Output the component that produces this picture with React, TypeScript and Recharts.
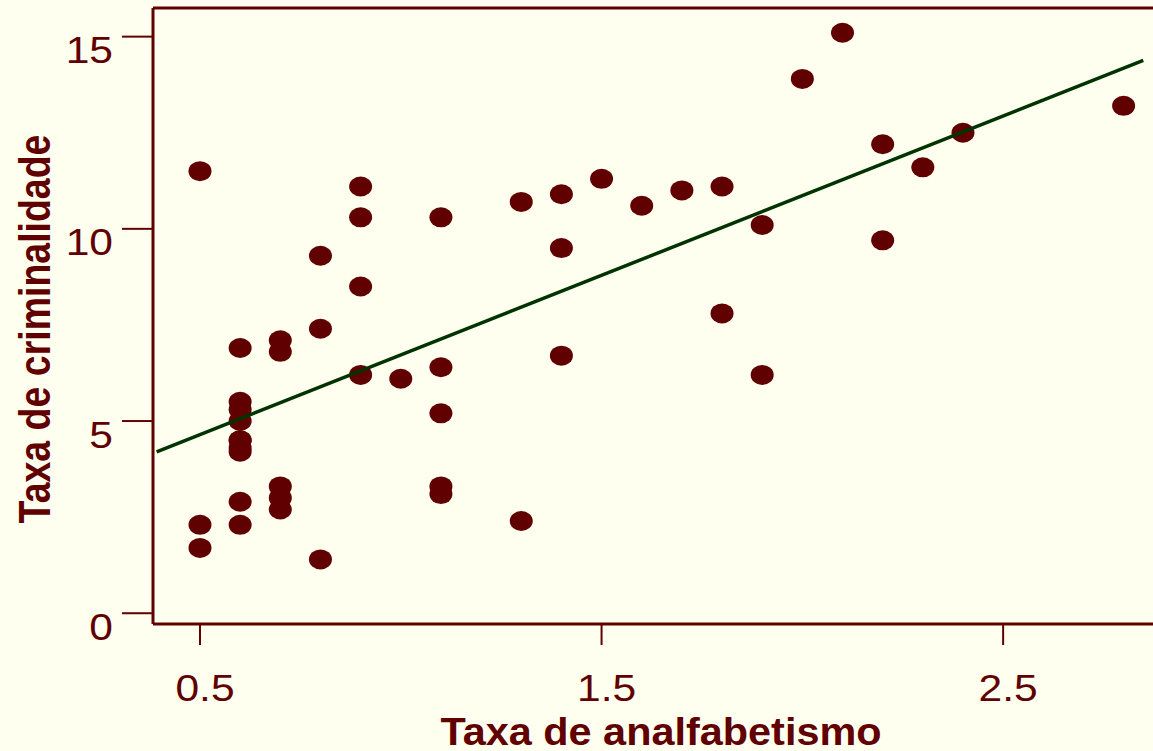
import React from "react";
import {
  ScatterChart,
  Scatter,
  XAxis,
  YAxis,
  ReferenceLine,
} from "recharts";

// Taxa de analfabetismo (x) e taxa de criminalidade (y)
const ILLITERACY = [
  2.1, 1.5, 1.8, 1.9, 1.1, 0.7, 1.1, 0.9, 1.3, 2.0,
  1.9, 0.6, 0.9, 0.7, 0.5, 0.6, 1.6, 2.8, 0.7, 0.9,
  1.1, 0.9, 0.6, 2.4, 0.8, 0.6, 0.6, 0.5, 0.7, 1.1,
  2.2, 1.4, 1.8, 0.8, 0.8, 1.1, 0.6, 1.0, 1.3, 2.3,
  0.5, 1.7, 2.2, 0.6, 0.6, 1.4, 0.6, 1.4, 0.7, 0.6,
];
const CRIME = [
  15.1, 11.3, 7.8, 10.1, 10.3, 6.8, 3.1, 6.2, 10.7, 13.9,
  6.2, 5.3, 10.3, 7.1, 2.3, 4.5, 10.6, 13.2, 2.7, 8.5,
  3.3, 11.1, 2.3, 12.5, 9.3, 5.0, 2.9, 11.5, 3.3, 5.2,
  9.7, 10.9, 11.1, 1.4, 7.4, 6.4, 4.2, 6.1, 2.4, 11.6,
  1.7, 11.0, 12.2, 4.5, 5.5, 9.5, 4.3, 6.7, 3.0, 6.9,
];

// Fitted line endpoints
const FIT_X = [0.392, 2.849];
const FIT_Y = [4.2, 14.38];

const X_TICKS = [0.5, 1.5, 2.5];
const Y_TICKS = [0, 5, 10, 15];

const X_DOMAIN = [0.383, 2.923];
const Y_DOMAIN = [-0.28, 15.745];

const points = ILLITERACY.map((x, i) => ({ x, y: CRIME[i] }));
const fitLine = FIT_X.map((x, i) => ({ x, y: FIT_Y[i] }));

const MAROON = "#600000";
const GREEN = "#003300";
const BG = "#FFFFF0";
const FONT = "'Liberation Sans', Arial, sans-serif";

const Dot = (props: any) => {
  const { cx, cy } = props;
  if (cx == null || cy == null) return <g />;
  return <ellipse cx={cx} cy={cy} rx={11.5} ry={10} fill={MAROON} />;
};

const NoShape = () => <g />;

const XTick = (props: any) => {
  const { x, y, payload } = props;
  return (
    <g transform={`translate(${x + 5}, ${y + 56}) scale(1.15, 1)`}>
      <text x={0} y={0} textAnchor="middle" fill={MAROON} fontSize={37} fontFamily={FONT}>
        {payload.value}
      </text>
    </g>
  );
};

const YTick = (props: any) => {
  const { x, y, payload } = props;
  return (
    <g transform={`translate(${x - 9}, ${y + 26.5}) scale(1.15, 1)`}>
      <text x={0} y={0} textAnchor="end" fill={MAROON} fontSize={37} fontFamily={FONT}>
        {payload.value}
      </text>
    </g>
  );
};

const XTitle = (props: any) => {
  const vb = props.viewBox || { x: 153, y: 624, width: 1020 };
  const cx = vb.x + vb.width / 2 - 2;
  return (
    <g transform={`translate(${cx}, ${vb.y + 121}) scale(1.09, 1)`}>
      <text x={0} y={0} textAnchor="middle" fill={MAROON} fontSize={38} fontWeight="bold" fontFamily={FONT}>
        Taxa de analfabetismo
      </text>
    </g>
  );
};

const YTitle = (props: any) => {
  const vb = props.viewBox || { x: 0, y: 8, height: 616 };
  const cy = vb.y + vb.height / 2 + 13;
  return (
    <g transform={`translate(50, ${cy}) scale(1.19, 1) rotate(-90)`}>
      <text x={0} y={0} textAnchor="middle" fill={MAROON} fontSize={37.5} fontWeight="bold" fontFamily={FONT}>
        Taxa de criminalidade
      </text>
    </g>
  );
};

export default function App() {
  return (
    <div
      style={{
        position: "absolute",
        left: 0,
        top: 0,
        width: 1153,
        height: 751,
        overflow: "hidden",
        background: BG,
      }}
    >
      <ScatterChart
        width={1200}
        height={751}
        margin={{ top: 8, right: 27, bottom: 27, left: 0 }}
      >
        <XAxis
          type="number"
          dataKey="x"
          domain={X_DOMAIN}
          allowDataOverflow
          ticks={X_TICKS}
          interval={0}
          height={100}
          tickSize={21}
          tickMargin={0}
          axisLine={{ stroke: MAROON, strokeWidth: 3 }}
          tickLine={{ stroke: MAROON, strokeWidth: 2 }}
          tick={<XTick />}
          label={<XTitle />}
        />
        <YAxis
          type="number"
          dataKey="y"
          domain={Y_DOMAIN}
          allowDataOverflow
          ticks={Y_TICKS}
          interval={0}
          width={153}
          tickSize={31}
          tickMargin={0}
          axisLine={{ stroke: MAROON, strokeWidth: 3 }}
          tickLine={{ stroke: MAROON, strokeWidth: 2 }}
          tick={<YTick />}
          label={<YTitle />}
        />
        <ReferenceLine y={Y_DOMAIN[1]} stroke={MAROON} strokeWidth={3} />
        <Scatter
          data={points}
          fill={MAROON}
          shape={<Dot />}
          isAnimationActive={false}
        />
        <Scatter
          data={fitLine}
          line={{ stroke: GREEN, strokeWidth: 3.5 }}
          shape={<NoShape />}
          fill={GREEN}
          isAnimationActive={false}
        />
      </ScatterChart>
    </div>
  );
}
